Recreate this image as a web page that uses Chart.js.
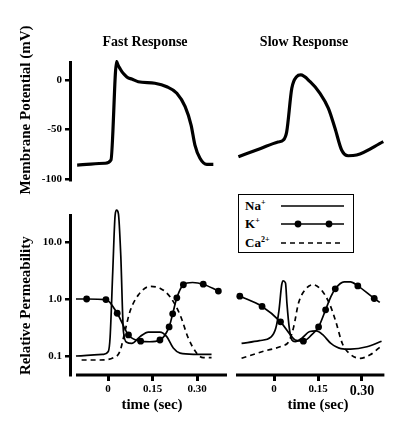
<!DOCTYPE html>
<html>
<head>
<meta charset="utf-8">
<title>Fast and slow response action potentials</title>
<script src="https://cdn.jsdelivr.net/npm/chart.js@4.4.1/dist/chart.umd.min.js"></script>
<style>
  html, body { margin: 0; padding: 0; background: #fff; }
  #figure { position: relative; width: 400px; height: 429px; overflow: hidden; }
  #figure canvas { position: absolute; }
  #fastAp { left: 0; top: 0; }
  #slowAp { left: 218px; top: 0; }
  #fastPerm { left: 0; top: 200px; }
  #slowPerm { left: 230px; top: 200px; }
  #legend {
    position: absolute; left: 238px; top: 194px; width: 114px; height: 57px;
    border: 1.5px solid #000; background: #fff;
    font: bold 13px "Liberation Serif", "Times New Roman", serif;
  }
  #legend .row { position: absolute; left: 6px; height: 18px; line-height: 18px; width: 104px; }
  #legend .row svg { position: absolute; left: 36px; top: 4px; }
  #legend sup { font-size: 8px; vertical-align: 5px; line-height: 0; }
</style>
</head>
<body>
<div id="figure">
  <canvas id="fastAp" width="290" height="220"></canvas>
  <canvas id="slowAp" width="172" height="200"></canvas>
  <canvas id="fastPerm" width="240" height="229"></canvas>
  <canvas id="slowPerm" width="174" height="229"></canvas>
  <div id="legend">
    <div class="row" style="top:2px">Na<sup>+</sup>
      <svg width="64" height="10"><line x1="0" y1="5" x2="63" y2="5" stroke="#000" stroke-width="1.6"/></svg>
    </div>
    <div class="row" style="top:20px">K<sup>+</sup>
      <svg width="64" height="10"><line x1="0" y1="5" x2="63" y2="5" stroke="#000" stroke-width="1.6"/>
        <circle cx="17" cy="5" r="3.4"/><circle cx="48" cy="5" r="3.4"/></svg>
    </div>
    <div class="row" style="top:39px">Ca<sup>2+</sup>
      <svg width="64" height="10"><line x1="0" y1="5" x2="63" y2="5" stroke="#000" stroke-width="1.6" stroke-dasharray="5 4"/></svg>
    </div>
  </div>
</div>
<script>
  // --- membrane potential (mV) against time (s) ---
  const fastApTime = [-0.104, -0.010, 0.010, 0.029, 0.034, 0.040, 0.048, 0.057, 0.068, 0.080, 0.102, 0.158, 0.198, 0.232, 0.260, 0.280, 0.293, 0.310, 0.333, 0.355];
  const fastApMv = [-85.9, -84.1, -80.8, 18.5, 15, 11.8, 8, 5, 2.2, 1, -1.7, -3.3, -6.8, -13.4, -27, -45.5, -65.7, -79.1, -85.2, -85.2];
  const slowApTime = [-0.122, -0.050, 0.010, 0.028, 0.039, 0.056, 0.072, 0.086, 0.117, 0.150, 0.178, 0.200, 0.222, 0.244, 0.272, 0.361];
  const slowApMv = [-77.5, -69.4, -62.6, -60.6, -52.2, -8.4, 3.3, 5.1, -1.7, -13.4, -28.6, -48.8, -70.7, -76.5, -75.8, -62.3];

  // --- relative permeability, fast response ---
  const naFastTime = [-0.108, -0.016, 0.001, 0.007, 0.016, 0.024, 0.029, 0.035, 0.043, 0.052, 0.063, 0.080, 0.108, 0.136, 0.175, 0.198, 0.220, 0.243, 0.288, 0.349];
  const naFastPerm = [0.100, 0.107, 0.120, 0.209, 3.02, 29.5, 36.3, 31.6, 5.89, 0.269, 0.174, 0.166, 0.219, 0.263, 0.263, 0.219, 0.138, 0.112, 0.107, 0.107];
  const caFastTime = [-0.089, -0.027, 0.018, 0.040, 0.057, 0.074, 0.102, 0.142, 0.175, 0.209, 0.243, 0.271, 0.299, 0.321, 0.349];
  const caFastPerm = [0.0851, 0.0851, 0.0933, 0.120, 0.269, 0.603, 1.17, 1.66, 1.55, 1.10, 0.525, 0.204, 0.112, 0.0933, 0.0933];
  const kFastTime = [-0.108, -0.072, -0.007, 0.031, 0.069, 0.110, 0.140, 0.175, 0.206, 0.218, 0.232, 0.254, 0.285, 0.321, 0.372];
  const kFastPerm = [1.0, 1.0, 0.977, 0.562, 0.234, 0.182, 0.178, 0.191, 0.324, 0.550, 1.05, 1.78, 1.95, 1.82, 1.38];
  const kFastMarkTime = [-0.072, -0.007, 0.031, 0.069, 0.110, 0.175, 0.206, 0.218, 0.232, 0.254, 0.321, 0.372];
  const kFastMarkPerm = [1.0, 0.977, 0.562, 0.234, 0.182, 0.191, 0.324, 0.550, 1.05, 1.78, 1.82, 1.38];

  // --- relative permeability, slow response ---
  const naSlowTime = [-0.111, -0.050, -0.011, 0.006, 0.017, 0.026, 0.031, 0.039, 0.044, 0.052, 0.061, 0.072, 0.094, 0.122, 0.144, 0.167, 0.194, 0.228, 0.261, 0.317, 0.367];
  const naSlowPerm = [0.166, 0.186, 0.214, 0.309, 0.646, 1.78, 2.09, 1.91, 0.832, 0.309, 0.191, 0.178, 0.204, 0.269, 0.275, 0.234, 0.166, 0.135, 0.132, 0.145, 0.182];
  const caSlowTime = [-0.111, -0.039, 0.028, 0.050, 0.067, 0.083, 0.106, 0.133, 0.161, 0.189, 0.211, 0.233, 0.256, 0.294, 0.328, 0.367];
  const caSlowPerm = [0.0912, 0.120, 0.151, 0.178, 0.324, 0.832, 1.45, 1.78, 1.45, 0.832, 0.398, 0.166, 0.112, 0.0912, 0.105, 0.151];
  const kSlowTime = [-0.117, -0.041, 0.022, 0.056, 0.072, 0.100, 0.128, 0.152, 0.176, 0.194, 0.209, 0.239, 0.261, 0.286, 0.342, 0.361];
  const kSlowPerm = [1.12, 0.741, 0.398, 0.234, 0.191, 0.182, 0.234, 0.324, 0.646, 1.10, 1.51, 2.0, 2.0, 1.70, 1.02, 0.871];
  const kSlowMarkTime = [-0.117, -0.041, 0.022, 0.100, 0.152, 0.176, 0.209, 0.286, 0.342];
  const kSlowMarkPerm = [1.12, 0.741, 0.398, 0.182, 0.324, 0.646, 1.51, 1.70, 1.02];

  // --- ticks ---
  const mvTicks = [-100, -50, 0];
  const mvTickLabels = ["-100", "-50", "0"];
  const permTicks = [0.1, 1, 10];
  const permTickLabels = ["0.1", "1.0", "10.0"];
  const timeTicks = [0, 0.15, 0.30];
  const timeTickLabels = ["0", "0.15", "0.30"];

  Chart.defaults.font.family = '"Liberation Serif", "Times New Roman", serif';
  Chart.defaults.font.weight = "bold";
  Chart.defaults.color = "#000";

  function pts(xs, ys) {
    return xs.map((x, i) => ({ x: x, y: ys[i] }));
  }

  function curve(xs, ys, extra) {
    return Object.assign({
      data: pts(xs, ys),
      borderColor: "#000",
      borderWidth: 1.7,
      pointRadius: 0,
      cubicInterpolationMode: "monotone",
      fill: false,
      clip: false
    }, extra);
  }

  function markers(xs, ys) {
    return {
      data: pts(xs, ys),
      showLine: false,
      pointRadius: 3.4,
      pointBackgroundColor: "#000",
      pointBorderWidth: 0,
      clip: false
    };
  }

  // x axis line that starts a little right of the y axis, like the original
  const axisLinePlugin = {
    id: "axisLine",
    afterDraw(chart, args, opts) {
      const { ctx, chartArea, scales } = chart;
      ctx.save();
      ctx.strokeStyle = "#000";
      ctx.lineWidth = 3;
      ctx.beginPath();
      ctx.moveTo(scales.x.getPixelForValue(opts.from), chartArea.bottom);
      ctx.lineTo(scales.x.getPixelForValue(opts.to), chartArea.bottom);
      ctx.stroke();
      ctx.restore();
    }
  };

  const noInteraction = { responsive: false, animation: false, events: [] };

  function timeAxis(min, max, bigLast) {
    return {
      type: "linear", min: min, max: max,
      afterFit: (s) => { s.height = 54; },
      afterBuildTicks: (s) => { s.ticks = timeTicks.map((v) => ({ value: v })); },
      border: { display: false },
      grid: { drawOnChartArea: false, tickLength: 6, lineWidth: 3, color: "#000" },
      ticks: {
        padding: 2,
        font: (c) => ({ size: bigLast && c.index === 2 ? 14 : 11 }),
        callback: (v, i) => timeTickLabels[i]
      },
      title: { display: true, text: "time (sec)", font: { size: 15 }, padding: { top: 0, bottom: 15 } }
    };
  }

  // Fast response, membrane potential
  new Chart(document.getElementById("fastAp"), {
    type: "line",
    data: { datasets: [curve(fastApTime, fastApMv, { borderWidth: 3.2 })] },
    options: Object.assign({}, noInteraction, {
      plugins: {
        legend: { display: false },
        tooltip: { enabled: false },
        title: { display: true, text: "Fast Response", font: { size: 14 }, padding: { top: 33.6, bottom: 11.6 } },
        subtitle: { display: true, position: "left", text: "Membrane Potential (mV)", font: { size: 15, weight: "bold" }, padding: { top: 17, bottom: 0 } }
      },
      scales: {
        x: {
          type: "linear", min: -0.1281, max: 0.6134,
          afterFit: (s) => { s.height = 40; },
          grid: { display: false }, border: { display: false }, ticks: { display: false }
        },
        y: {
          min: -101, max: 18.2,
          afterFit: (s) => { s.width = 35; },
          afterBuildTicks: (s) => { s.ticks = mvTicks.map((v) => ({ value: v })); },
          border: { display: true, width: 3, color: "#000" },
          grid: { drawOnChartArea: false, tickLength: 5, lineWidth: 2.5, color: "#000" },
          ticks: { padding: 3, font: { size: 11 }, callback: (v, i) => mvTickLabels[i] }
        }
      }
    })
  });

  // Slow response, membrane potential
  new Chart(document.getElementById("slowAp"), {
    type: "line",
    data: { datasets: [curve(slowApTime, slowApMv, { borderWidth: 3.2 })] },
    options: Object.assign({}, noInteraction, {
      layout: { padding: { bottom: 20 } },
      plugins: {
        legend: { display: false },
        tooltip: { enabled: false },
        title: { display: true, text: "Slow Response", font: { size: 14 }, padding: { top: 33.6, bottom: 11.6 } }
      },
      scales: {
        x: { type: "linear", min: -0.19, max: 0.3833, display: false },
        y: { min: -101, max: 18.2, display: false }
      }
    })
  });

  // Fast response, permeabilities
  new Chart(document.getElementById("fastPerm"), {
    type: "line",
    data: {
      datasets: [
        curve(naFastTime, naFastPerm),
        curve(caFastTime, caFastPerm, { borderDash: [5, 4] }),
        curve(kFastTime, kFastPerm),
        markers(kFastMarkTime, kFastMarkPerm)
      ]
    },
    options: Object.assign({}, noInteraction, {
      layout: { padding: { top: 15, right: 6 } },
      plugins: {
        legend: { display: false },
        tooltip: { enabled: false },
        axisLine: { from: -0.1079, to: 0.4011 }
      },
      scales: {
        x: timeAxis(-0.1281, 0.4247, false),
        y: {
          type: "logarithmic", min: 0.0464, max: 29.8,
          afterFit: (s) => { s.width = 70; },
          afterBuildTicks: (s) => { s.ticks = permTicks.map((v) => ({ value: v })); },
          border: { display: true, width: 3, color: "#000" },
          grid: { drawOnChartArea: false, tickLength: 5, lineWidth: 2.5, color: "#000" },
          ticks: { padding: 3, font: { size: 11 }, callback: (v, i) => permTickLabels[i] },
          title: { display: true, text: "Relative Permeability", align: "start", font: { size: 15 }, padding: { top: 17, bottom: 0 } }
        }
      }
    }),
    plugins: [axisLinePlugin]
  });

  // Slow response, permeabilities
  new Chart(document.getElementById("slowPerm"), {
    type: "line",
    data: {
      datasets: [
        curve(naSlowTime, naSlowPerm),
        curve(caSlowTime, caSlowPerm, { borderDash: [5, 4] }),
        curve(kSlowTime, kSlowPerm),
        markers(kSlowMarkTime, kSlowMarkPerm)
      ]
    },
    options: Object.assign({}, noInteraction, {
      layout: { padding: { top: 15, left: 6 } },
      plugins: {
        legend: { display: false },
        tooltip: { enabled: false },
        axisLine: { from: -0.13, to: 0.3767 }
      },
      scales: {
        x: timeAxis(-0.13, 0.43, true),
        y: { type: "logarithmic", min: 0.0464, max: 29.8, display: false }
      }
    }),
    plugins: [axisLinePlugin]
  });
</script>
</body>
</html>
